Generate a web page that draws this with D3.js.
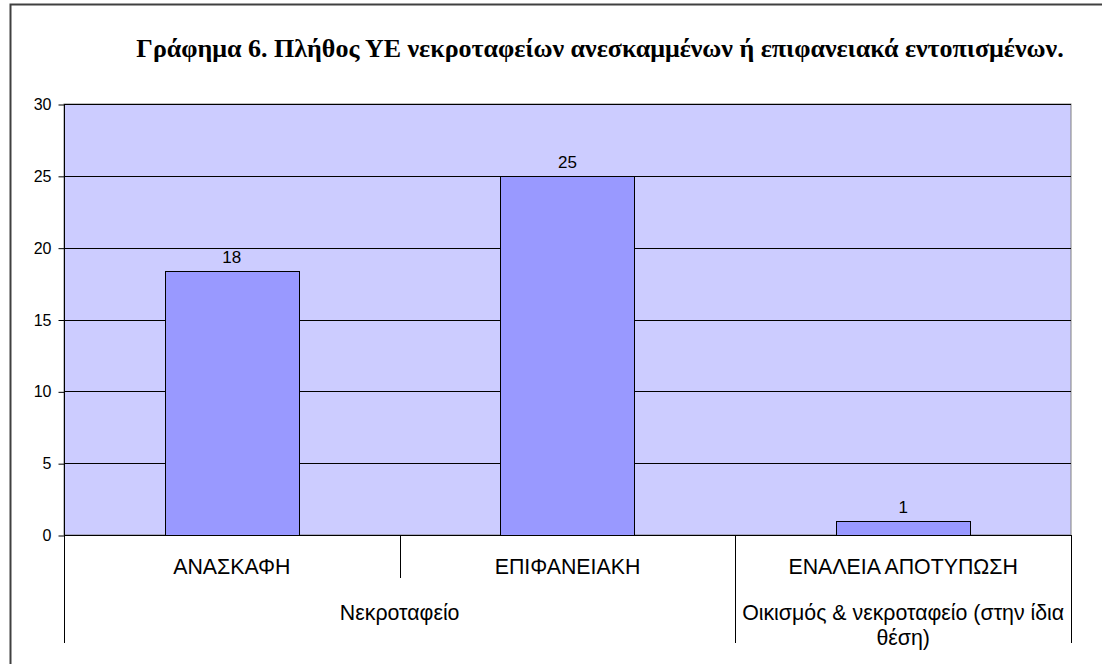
<!DOCTYPE html>
<html><head><meta charset="utf-8">
<script src="https://cdn.jsdelivr.net/npm/d3@7/dist/d3.min.js"></script>
<style>body{margin:0;background:#fff}svg{display:block}</style>
</head><body>
<svg id="c" width="1102" height="664"></svg>
<script>
const title = "Γράφημα 6. Πλήθος ΥΕ νεκροταφείων ανεσκαμμένων ή επιφανειακά εντοπισμένων.";
const categories = ["ΑΝΑΣΚΑΦΗ", "ΕΠΙΦΑΝΕΙΑΚΗ", "ΕΝΑΛΕΙΑ ΑΠΟΤΥΠΩΣΗ"];
const values = [18.4, 25, 1];
const valueLabels = ["18", "25", "1"];
const groups = [
  {name: ["Νεκροταφείο"], span: [0, 1]},
  {name: ["Οικισμός & νεκροταφείο (στην ίδια", "θέση)"], span: [2, 2]}
];
const yTicks = [0, 5, 10, 15, 20, 25, 30];

const svg = d3.select("#c");
const L = 64, R = 1071, T = 104, B = 535;
const font = "Liberation Sans, Arial, sans-serif";

// outer chart border (left and top visible)
svg.append("path").attr("d", `M10.5,664 V4.5 H1102`).attr("fill", "none")
  .attr("stroke", "#404040").attr("stroke-width", 2);

const x = d3.scaleBand().domain(categories).range([L, R]).padding(0);
const y = d3.scaleLinear().domain([0, 30]).range([B, T]);

// plot background
svg.append("rect").attr("x", L).attr("y", T).attr("width", R - L).attr("height", B - T)
  .attr("fill", "#CCCCFF").attr("stroke", "#808080").attr("stroke-width", 1);

// gridlines
svg.append("g").selectAll("line").data(yTicks).join("line")
  .attr("x1", L).attr("x2", R)
  .attr("y1", d => Math.round(y(d)) + 0.5).attr("y2", d => Math.round(y(d)) + 0.5)
  .attr("stroke", "#000").attr("stroke-width", 1);

// y axis
const yAxis = d3.axisLeft(y).tickValues(yTicks).tickSize(6).tickPadding(7);
const ya = svg.append("g").attr("transform", `translate(${L + 0.5},0.5)`).call(yAxis);
ya.select(".domain").attr("stroke", "#000").attr("d", `M0,${T} V${B}`);
ya.selectAll(".tick line").attr("stroke", "#000");
ya.selectAll(".tick text").attr("font-family", font).attr("font-size", 16).attr("fill", "#000");

// bars
const bw = x.bandwidth() * 0.4;
svg.append("g").selectAll("rect").data(values).join("rect")
  .attr("x", (d, i) => Math.round(x(categories[i]) + x.bandwidth() / 2 - bw / 2) + 0.5)
  .attr("y", d => Math.round(y(d)) + 0.5)
  .attr("width", Math.round(bw))
  .attr("height", d => Math.round(B - y(d)))
  .attr("fill", "#9999FF").attr("stroke", "#000").attr("stroke-width", 1);

// value labels
svg.append("g").selectAll("text").data(values).join("text")
  .attr("x", (d, i) => x(categories[i]) + x.bandwidth() / 2)
  .attr("y", d => y(d) - 8)
  .attr("text-anchor", "middle").attr("font-family", font).attr("font-size", 17)
  .text((d, i) => valueLabels[i]);

// category labels
svg.append("g").selectAll("text").data(categories).join("text")
  .attr("x", d => x(d) + x.bandwidth() / 2).attr("y", 574)
  .attr("text-anchor", "middle").attr("font-family", font).attr("font-size", 21.33)
  .text(d => d);

// category separators
svg.append("line").attr("x1", Math.round(x(categories[1])) + 0.5).attr("x2", Math.round(x(categories[1])) + 0.5)
  .attr("y1", B).attr("y2", 578).attr("stroke", "#000");
[L, x(categories[2]), R].forEach(v => {
  svg.append("line").attr("x1", Math.round(v) + 0.5).attr("x2", Math.round(v) + 0.5)
    .attr("y1", B).attr("y2", 643).attr("stroke", "#000");
});

// group labels
groups.forEach(g => {
  const x0 = x(categories[g.span[0]]), x1 = x(categories[g.span[1]]) + x.bandwidth();
  const t = svg.append("text").attr("x", (x0 + x1) / 2).attr("y", 620)
    .attr("text-anchor", "middle").attr("font-family", font).attr("font-size", 21.33);
  g.name.forEach((s, i) => t.append("tspan").attr("x", (x0 + x1) / 2).attr("dy", i ? 25 : 0).text(s));
});

// title
svg.append("text").attr("x", 600).attr("y", 57).attr("text-anchor", "middle")
  .attr("font-family", "Liberation Serif, Times New Roman, serif").attr("font-weight", "bold")
  .attr("font-size", 26).text(title);
</script>
</body></html>
